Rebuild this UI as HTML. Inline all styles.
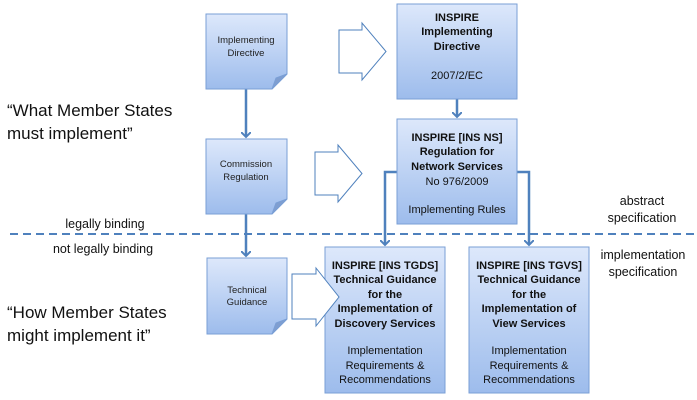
<!DOCTYPE html>
<html><head><meta charset="utf-8"><style>
html,body{margin:0;padding:0;background:#fff;}
svg{display:block;font-family:"Liberation Sans",sans-serif;}
</style></head><body>
<svg width="697" height="400" viewBox="0 0 697 400" xmlns="http://www.w3.org/2000/svg">
<defs>
<linearGradient id="g" x1="0" y1="0" x2="0" y2="1">
<stop offset="0" stop-color="#dde8fb"/><stop offset="1" stop-color="#9dbcec"/>
</linearGradient>
<marker id="ah" markerWidth="10" markerHeight="10" refX="5" refY="5" orient="auto" markerUnits="userSpaceOnUse">
<path d="M0,0 L5,5 L0,10" fill="none" stroke="#4f81bd" stroke-width="2"/>
</marker>
</defs>
<!-- dashed line -->
<line x1="10" y1="234" x2="697" y2="234" stroke="#4f81bd" stroke-width="2" stroke-dasharray="8,5"/>
<!-- connectors -->
<g stroke="#4f81bd" stroke-width="2.5" fill="none">
<line x1="246" y1="89" x2="246" y2="137" marker-end="url(#ah)"/>
<line x1="246" y1="214" x2="246" y2="256" marker-end="url(#ah)"/>
<line x1="457" y1="99" x2="457" y2="117" marker-end="url(#ah)"/>
<polyline points="397,172 385,172 385,245" marker-end="url(#ah)"/>
<polyline points="517,172 529,172 529,245" marker-end="url(#ah)"/>
</g>
<!-- doc boxes -->
<g stroke="#7a9fd6" stroke-width="1">
<path d="M206,14 H287 V74 L272,89 H206 Z" fill="url(#g)"/>
<path d="M272,89 L276,78 L287,74 Z" fill="#7f9ed0"/>
<path d="M206,139 H287 V199 L272,214 H206 Z" fill="url(#g)"/>
<path d="M272,214 L276,203 L287,199 Z" fill="#7f9ed0"/>
<path d="M207,258 H287 V319 L272,334 H207 Z" fill="url(#g)"/>
<path d="M272,334 L276,323 L287,319 Z" fill="#7f9ed0"/>
</g>
<!-- big boxes -->
<g stroke="#7a9fd6" stroke-width="1" fill="url(#g)">
<rect x="397" y="4" width="120" height="95"/>
<rect x="397" y="119" width="120" height="105"/>
<rect x="325" y="247" width="120" height="146"/>
<rect x="469" y="247" width="120" height="146"/>
</g>
<!-- hollow arrows -->
<g fill="#fff" stroke="#4f81bd" stroke-width="1">
<path d="M339,30 H362 V23 L386,51.5 L362,80 V73 H339 Z"/>
<path d="M315,152 H338 V145 L362,173.5 L338,202 V195 H315 Z"/>
<path d="M292,274 H316 V268 L339,297 L316,326 V319 H292 Z"/>
</g>
<!-- doc texts -->
<g font-size="9.5" fill="#222" text-anchor="middle">
<text x="246" y="43">Implementing</text><text x="246" y="56">Directive</text>
<text x="246" y="167">Commission</text><text x="246" y="180">Regulation</text>
<text x="247" y="293">Technical</text><text x="247" y="305">Guidance</text>
</g>
<!-- big box texts -->
<g font-size="11" fill="#111" text-anchor="middle">
<g font-weight="bold">
<text x="457" y="21">INSPIRE</text><text x="457" y="35">Implementing</text><text x="457" y="50">Directive</text>
<text x="457" y="141">INSPIRE [INS NS]</text><text x="457" y="155">Regulation for</text><text x="457" y="170">Network Services</text>
<text x="385" y="269">INSPIRE [INS TGDS]</text><text x="385" y="283">Technical Guidance</text><text x="385" y="298">for the</text><text x="385" y="312">Implementation of</text><text x="385" y="327">Discovery Services</text>
<text x="529" y="269">INSPIRE [INS TGVS]</text><text x="529" y="283">Technical Guidance</text><text x="529" y="298">for the</text><text x="529" y="312">Implementation of</text><text x="529" y="327">View Services</text>
</g>
<text x="457" y="79">2007/2/EC</text>
<text x="457" y="185">No 976/2009</text>
<text x="457" y="213">Implementing Rules</text>
<text x="385" y="354">Implementation</text><text x="385" y="369">Requirements &amp;</text><text x="385" y="383">Recommendations</text>
<text x="529" y="354">Implementation</text><text x="529" y="369">Requirements &amp;</text><text x="529" y="383">Recommendations</text>
</g>
<!-- side labels -->
<g fill="#111">
<text x="7" y="116" font-size="17">“What Member States</text>
<text x="7" y="139" font-size="17">must implement”</text>
<text x="7" y="318" font-size="17">“How Member States</text>
<text x="7" y="341" font-size="17">might implement it”</text>
<text x="105" y="228" font-size="12.5" text-anchor="middle">legally binding</text>
<text x="103" y="253" font-size="12.5" text-anchor="middle">not legally binding</text>
<text x="642" y="205" font-size="12.5" text-anchor="middle">abstract</text>
<text x="642" y="222" font-size="12.5" text-anchor="middle">specification</text>
<text x="643" y="259" font-size="12.5" text-anchor="middle">implementation</text>
<text x="643" y="276" font-size="12.5" text-anchor="middle">specification</text>
</g>
</svg>
</body></html>
